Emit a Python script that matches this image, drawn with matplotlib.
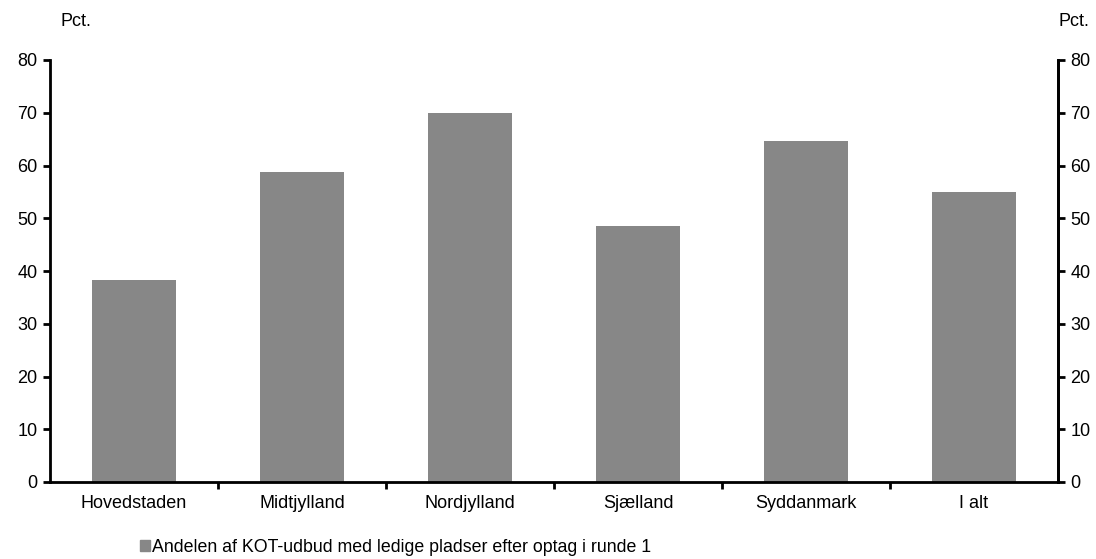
import matplotlib.pyplot as plt
from matplotlib.patches import Patch

plt.rcParams['font.family'] = ['Liberation Sans', 'DejaVu Sans']

# regioner og andel (pct.)
regions = ["Hovedstaden", "Midtjylland", "Nordjylland", "Sjælland", "Syddanmark", "I alt"]
share = [38.3, 58.7, 69.9, 48.5, 64.6, 55.0]
legend_label = "Andelen af KOT-udbud med ledige pladser efter optag i runde 1"

fig = plt.figure(figsize=(10.96, 5.59), dpi=100)
ax = fig.add_axes([50/1096, 1-482/559, 1008/1096, 422/559])

x = list(range(len(regions)))
ax.bar(x, share, width=0.5, color="#878787")

ax.set_xlim(-0.5, len(regions) - 0.5)
ax.set_ylim(0, 80)
ax.set_yticks(range(0, 81, 10))
ax.set_xticks(x)
ax.set_xticklabels(regions, fontsize=13)
ax.tick_params(axis='x', length=0, pad=9)
ax.set_xticks([i + 0.5 for i in x[:-1]], minor=True)
ax.tick_params(axis='x', which='minor', direction='out', length=5, width=2)
ax.tick_params(axis='y', direction='out', length=5, width=2, labelsize=13, pad=4)
ax.spines['top'].set_visible(False)
for s in ['left', 'right', 'bottom']:
    ax.spines[s].set_linewidth(2)

ax2 = ax.twinx()
ax2.set_ylim(0, 80)
ax2.set_yticks(range(0, 81, 10))
ax2.tick_params(axis='y', direction='out', length=5, width=2, labelsize=13, pad=4)
ax2.spines['top'].set_visible(False)
ax2.spines['right'].set_linewidth(2)

fig.text(61/1096, 1-22/559, "Pct.", fontsize=13, ha='left', va='center')
fig.text(1059/1096, 1-22/559, "Pct.", fontsize=13, ha='left', va='center')

fig.legend(handles=[Patch(color="#878787", label=legend_label)], loc='center left',
           bbox_to_anchor=(140/1096, 1-547/559), frameon=False, fontsize=12.75,
           handlelength=0.55, handleheight=0.55, handletextpad=0.15, borderaxespad=0,
           borderpad=0)

fig.savefig("out.png", dpi=100)
